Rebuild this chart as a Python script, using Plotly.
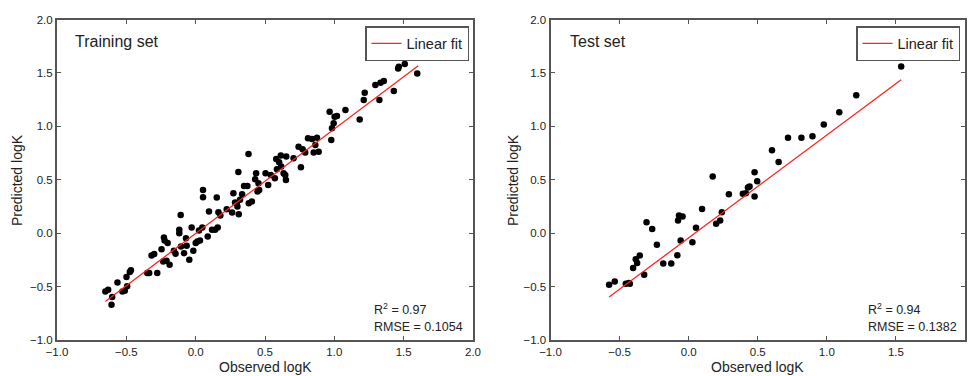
import plotly.graph_objects as go

# ---------------- data ----------------
train_obs = [-0.651, -0.631, -0.607, -0.602, -0.564, -0.528, -0.511, -0.494, -0.499, -0.475,
             -0.467, -0.349, -0.335, -0.318, -0.299, -0.277, -0.246, -0.229, -0.224, -0.234,
             -0.210, -0.202, -0.188, -0.157, -0.145, -0.118, -0.118, -0.108, -0.106, -0.084,
             -0.070, -0.065, -0.046, -0.029, -0.017, 0.000, 0.012, 0.024, 0.031, 0.048,
             0.053, 0.053, 0.087, 0.096, 0.118, 0.140, 0.152, 0.159, 0.164, 0.178,
             0.224, 0.263, 0.272, 0.284, 0.296, 0.301, 0.308, 0.311, 0.320, 0.335,
             0.349, 0.373, 0.381, 0.383, 0.405, 0.429, 0.436, 0.446, 0.453, 0.458,
             0.504, 0.523, 0.542, 0.571, 0.581, 0.586, 0.602, 0.614, 0.617, 0.634,
             0.646, 0.653, 0.651, 0.706, 0.742, 0.759, 0.771, 0.790, 0.810, 0.839,
             0.851, 0.863, 0.875, 0.887, 0.966, 0.978, 0.983, 0.995, 1.002, 1.019,
             1.080, 1.183, 1.212, 1.219, 1.325, 1.296, 1.333, 1.357, 1.429, 1.460,
             1.465, 1.508, 1.598, 1.605]
train_pred = [-0.545, -0.530, -0.670, -0.598, -0.461, -0.545, -0.539, -0.498, -0.411, -0.364,
              -0.346, -0.374, -0.374, -0.209, -0.196, -0.374, -0.150, -0.040, -0.069, -0.265,
              -0.259, -0.093, -0.296, -0.165, -0.193, 0.031, 0.000, 0.171, -0.125, -0.187,
              -0.047, -0.118, -0.249, 0.053, -0.165, -0.093, -0.078, 0.025, -0.069, 0.053,
              0.405, 0.336, -0.031, 0.202, 0.031, 0.031, 0.333, 0.053, 0.196, 0.165,
              0.224, 0.193, 0.374, 0.287, 0.280, 0.249, 0.573, 0.178, 0.312, 0.364,
              0.442, 0.442, 0.741, 0.280, 0.296, 0.505, 0.561, 0.389, 0.467, 0.405,
              0.561, 0.452, 0.545, 0.514, 0.695, 0.598, 0.664, 0.726, 0.623, 0.561,
              0.545, 0.717, 0.498, 0.701, 0.810, 0.617, 0.785, 0.754, 0.888, 0.882,
              0.754, 0.826, 0.894, 0.763, 1.137, 0.872, 0.981, 1.028, 1.090, 1.097,
              1.153, 1.065, 1.246, 1.315, 1.246, 1.386, 1.408, 1.424, 1.330, 1.542,
              1.558, 1.583, 1.495, 1.707]

test_obs = [-0.576, -0.535, -0.455, -0.433, -0.426, -0.402, -0.383, -0.373, -0.354, -0.322,
            -0.305, -0.264, -0.230, -0.184, -0.126, -0.082, -0.077, -0.070, -0.044, -0.058,
            0.027, 0.053, 0.097, 0.174, 0.199, 0.228, 0.240, 0.291, 0.392, 0.414,
            0.429, 0.441, 0.477, 0.477, 0.496, 0.603, 0.651, 0.719, 0.816, 0.896,
            0.978, 1.090, 1.213, 1.538]
test_pred = [-0.483, -0.452, -0.474, -0.467, -0.474, -0.327, -0.243, -0.280, -0.209, -0.389,
             0.103, 0.040, -0.109, -0.283, -0.283, -0.206, 0.118, 0.165, 0.156, -0.069,
             -0.084, 0.050, 0.227, 0.530, 0.087, 0.118, 0.196, 0.364, 0.368, 0.374,
             0.427, 0.436, 0.570, 0.343, 0.486, 0.776, 0.667, 0.894, 0.894, 0.907,
             1.016, 1.131, 1.290, 1.561]

train_fit_x = [-0.651, 1.605]
train_fit_y = [-0.639, 1.567]
test_fit_x = [-0.576, 1.538]
test_fit_y = [-0.598, 1.436]

tick_vals = [-1.0, -0.5, 0.0, 0.5, 1.0, 1.5, 2.0]
panel_titles = ["Training set", "Test set"]
stats_text = ["R<sup>2</sup> = 0.97<br>RMSE = 0.1054", "R<sup>2</sup> = 0.94<br>RMSE = 0.1382"]

# ---------------- figure ----------------
W, H = 972, 376
FONT = "Liberation Sans, Arial, Helvetica, sans-serif"
fig = go.Figure()

fig.add_trace(go.Scatter(x=train_obs, y=train_pred, mode="markers",
                         marker=dict(color="black", size=6.5), showlegend=False,
                         xaxis="x", yaxis="y"))
fig.add_trace(go.Scatter(x=train_fit_x, y=train_fit_y, mode="lines",
                         line=dict(color="#ff2020", width=1.3), name="Linear fit",
                         xaxis="x", yaxis="y", legend="legend"))
fig.add_trace(go.Scatter(x=test_obs, y=test_pred, mode="markers",
                         marker=dict(color="black", size=6.5), showlegend=False,
                         xaxis="x2", yaxis="y2"))
fig.add_trace(go.Scatter(x=test_fit_x, y=test_fit_y, mode="lines",
                         line=dict(color="#ff2020", width=1.3), name="Linear fit",
                         xaxis="x2", yaxis="y2", legend="legend2"))

def px_x(p):
    return p / W

def px_y(p):
    return 1 - p / H

left_dom = [px_x(57), px_x(473)]
right_dom = [px_x(550.5), px_x(965)]
y_dom = [px_y(340), px_y(19.5)]

axis_common = dict(range=[-1.0, 2.0], tickvals=tick_vals, tickformat=".1f",
                   ticks="inside", ticklen=4, tickwidth=1, tickcolor="#555",
                   showline=True, linecolor="#555", linewidth=2, mirror="ticks",
                   showgrid=False, zeroline=False, automargin=False,
                   tickfont=dict(family=FONT, size=11.5, color="#222"))

legend_common = dict(yanchor="top", xanchor="right",
                     bordercolor="#555", borderwidth=1.5, bgcolor="white",
                     font=dict(family=FONT, size=14.5, color="#222"),
                     itemwidth=30, tracegroupgap=0)

fig.update_layout(
    width=W, height=H,
    margin=dict(l=0, r=0, t=0, b=0, pad=0),
    paper_bgcolor="white", plot_bgcolor="white",
    font=dict(family=FONT, color="#222"),
    xaxis=dict(domain=left_dom, anchor="y", **axis_common),
    yaxis=dict(domain=y_dom, anchor="x", **axis_common),
    xaxis2=dict(domain=right_dom, anchor="y2", **axis_common),
    yaxis2=dict(domain=y_dom, anchor="x2", **axis_common),
    legend=dict(x=px_x(469), y=px_y(26), **legend_common),
    legend2=dict(x=px_x(960), y=px_y(26), **legend_common),
)

annotations = []
# panel titles
for xp, txt in zip([73, 568], panel_titles):
    annotations.append(dict(x=px_x(xp), y=px_y(42), xref="paper", yref="paper",
                            text=txt, showarrow=False, xanchor="left", yanchor="middle",
                            font=dict(family=FONT, size=16, color="#222")))
# stats
for xp, txt in zip([372, 866], stats_text):
    annotations.append(dict(x=px_x(xp), y=px_y(317), xref="paper", yref="paper",
                            text=txt, showarrow=False, xanchor="left", yanchor="middle",
                            align="left",
                            font=dict(family=FONT, size=12.5, color="#222")))
# axis titles
for xp in [265, 757]:
    annotations.append(dict(x=px_x(xp), y=px_y(367), xref="paper", yref="paper",
                            text="Observed logK", showarrow=False,
                            xanchor="center", yanchor="middle",
                            font=dict(family=FONT, size=14, color="#222")))
for xp in [17, 513]:
    annotations.append(dict(x=px_x(xp), y=px_y(180), xref="paper", yref="paper",
                            text="Predicted logK", showarrow=False, textangle=-90,
                            xanchor="center", yanchor="middle",
                            font=dict(family=FONT, size=14, color="#222")))
fig.update_layout(annotations=annotations)

fig.write_html("out.html",
               config={"displayModeBar": False},
               post_script="document.body.style.margin='0';document.body.style.overflow='hidden';")
